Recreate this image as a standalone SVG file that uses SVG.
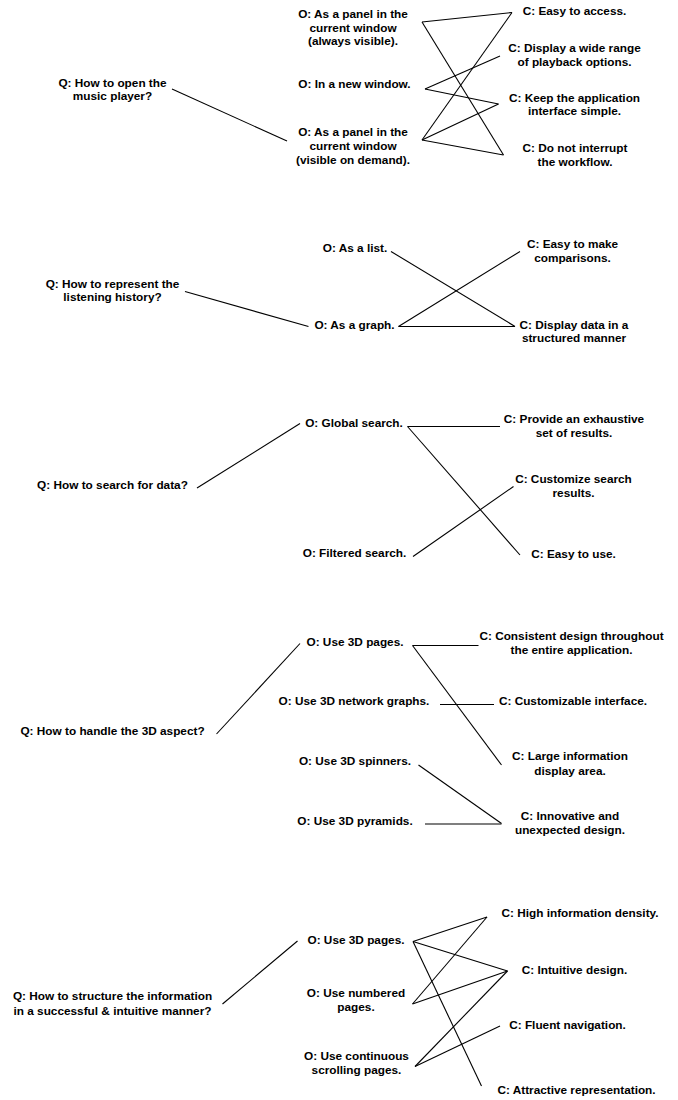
<svg xmlns="http://www.w3.org/2000/svg" width="678" height="1100" viewBox="0 0 678 1100">
<style>
text{font-family:"Liberation Sans",Arial,sans-serif;font-weight:bold;font-size:11.8px;fill:#000;text-anchor:middle}
.c line{stroke:#000;stroke-width:1.1;fill:none}
</style>
<rect width="678" height="1100" fill="#fff"/>
<g class="c" id="connectors">
<!-- section 1 -->
<line x1="172" y1="89" x2="287" y2="141"/>
<line x1="422" y1="22" x2="512" y2="12.5"/>
<line x1="422" y1="22" x2="503.5" y2="155"/>
<line x1="425" y1="89" x2="500" y2="56"/>
<line x1="425" y1="89" x2="498.5" y2="104"/>
<line x1="422" y1="140" x2="512" y2="12.5"/>
<line x1="422" y1="140" x2="498.5" y2="104"/>
<line x1="422" y1="140" x2="503.5" y2="155"/>
<!-- section 2 -->
<line x1="185" y1="291.5" x2="308.5" y2="326.5"/>
<line x1="391" y1="251.5" x2="515" y2="326.5"/>
<line x1="398.5" y1="326.5" x2="520" y2="251.5"/>
<line x1="398.5" y1="326.5" x2="515" y2="326.5"/>
<!-- section 3 -->
<line x1="197" y1="488" x2="300" y2="423.5"/>
<line x1="407.5" y1="426.5" x2="500" y2="426.5"/>
<line x1="407.5" y1="426.5" x2="520" y2="555"/>
<line x1="413" y1="556.5" x2="513.5" y2="486.5"/>
<!-- section 4 -->
<line x1="216.5" y1="734" x2="300" y2="643.5"/>
<line x1="412.5" y1="645.5" x2="478.5" y2="645.5"/>
<line x1="412.5" y1="645.5" x2="501.5" y2="765"/>
<line x1="440" y1="704.5" x2="494" y2="704.5"/>
<line x1="418.5" y1="765" x2="501.5" y2="823.5"/>
<line x1="425" y1="824" x2="501.5" y2="824"/>
<!-- section 5 -->
<line x1="222.5" y1="1004" x2="297.5" y2="941"/>
<line x1="413" y1="941.5" x2="487" y2="917"/>
<line x1="413" y1="941.5" x2="507.5" y2="971"/>
<line x1="413" y1="941.5" x2="481.5" y2="1086"/>
<line x1="412.5" y1="1004" x2="487" y2="917"/>
<line x1="412.5" y1="1004" x2="507.5" y2="971"/>
<line x1="415" y1="1066.5" x2="507.5" y2="971"/>
<line x1="415" y1="1066.5" x2="500" y2="1026"/>
</g>
<!-- Section 1 -->
<g id="q1"><text x="112.5" y="86.5">Q: How to open the</text><text x="112.5" y="100">music player?</text></g>
<g id="o1a"><text x="353" y="17.5">O: As a panel in the</text><text x="353" y="31.5">current window</text><text x="353" y="45">(always visible).</text></g>
<g id="o1b"><text x="354.5" y="88">O: In a new window.</text></g>
<g id="o1c"><text x="353" y="135.5">O: As a panel in the</text><text x="353" y="149.5">current window</text><text x="353" y="163.5">(visible on demand).</text></g>
<g id="c1a"><text x="574.5" y="14.5">C: Easy to access.</text></g>
<g id="c1b"><text x="574.5" y="52">C: Display a wide range</text><text x="574.5" y="65.5">of playback options.</text></g>
<g id="c1c"><text x="574.5" y="101.5">C: Keep the application</text><text x="574.5" y="115">interface simple.</text></g>
<g id="c1d"><text x="575" y="152">C: Do not interrupt</text><text x="575" y="166">the workflow.</text></g>
<!-- Section 2 -->
<g id="q2"><text x="112.5" y="287.5">Q: How to represent the</text><text x="112.5" y="301">listening history?</text></g>
<g id="o2a"><text x="355" y="252">O: As a list.</text></g>
<g id="o2b"><text x="354.5" y="328.5">O: As a graph.</text></g>
<g id="c2a"><text x="572.5" y="248">C: Easy to make</text><text x="572.5" y="261.5">comparisons.</text></g>
<g id="c2b"><text x="574" y="328.5">C: Display data in a</text><text x="574" y="342">structured manner</text></g>
<!-- Section 3 -->
<g id="q3"><text x="112.5" y="488.5">Q: How to search for data?</text></g>
<g id="o3a"><text x="354" y="427">O: Global search.</text></g>
<g id="o3b"><text x="354.5" y="557">O: Filtered search.</text></g>
<g id="c3a"><text x="574" y="422.5">C: Provide an exhaustive</text><text x="574" y="436.5">set of results.</text></g>
<g id="c3b"><text x="573.5" y="482.5">C: Customize search</text><text x="573.5" y="496.5">results.</text></g>
<g id="c3c"><text x="573.5" y="557.5">C: Easy to use.</text></g>
<!-- Section 4 -->
<g id="q4"><text x="112.5" y="735">Q: How to handle the 3D aspect?</text></g>
<g id="o4a"><text x="355" y="645.5">O: Use 3D pages.</text></g>
<g id="o4b"><text x="354" y="705">O: Use 3D network graphs.</text></g>
<g id="o4c"><text x="355" y="764.5">O: Use 3D spinners.</text></g>
<g id="o4d"><text x="355" y="824.5">O: Use 3D pyramids.</text></g>
<g id="c4a"><text x="571.5" y="640">C: Consistent design throughout</text><text x="571.5" y="653.5">the entire application.</text></g>
<g id="c4b"><text x="573" y="705">C: Customizable interface.</text></g>
<g id="c4c"><text x="570" y="760">C: Large information</text><text x="570" y="774.5">display area.</text></g>
<g id="c4d"><text x="570" y="820">C: Innovative and</text><text x="570" y="834">unexpected design.</text></g>
<!-- Section 5 -->
<g id="q5"><text x="112.5" y="1000">Q: How to structure the information</text><text x="112.5" y="1015">in a successful &amp; intuitive manner?</text></g>
<g id="o5a"><text x="356" y="944">O: Use 3D pages.</text></g>
<g id="o5b"><text x="356" y="997">O: Use numbered</text><text x="356" y="1011">pages.</text></g>
<g id="o5c"><text x="356.5" y="1060">O: Use continuous</text><text x="356.5" y="1074">scrolling pages.</text></g>
<g id="c5a"><text x="580" y="917">C: High information density.</text></g>
<g id="c5b"><text x="574.5" y="973.5">C: Intuitive design.</text></g>
<g id="c5c"><text x="567.5" y="1028.5">C: Fluent navigation.</text></g>
<g id="c5d"><text x="576.5" y="1093.5">C: Attractive representation.</text></g>
</svg>
